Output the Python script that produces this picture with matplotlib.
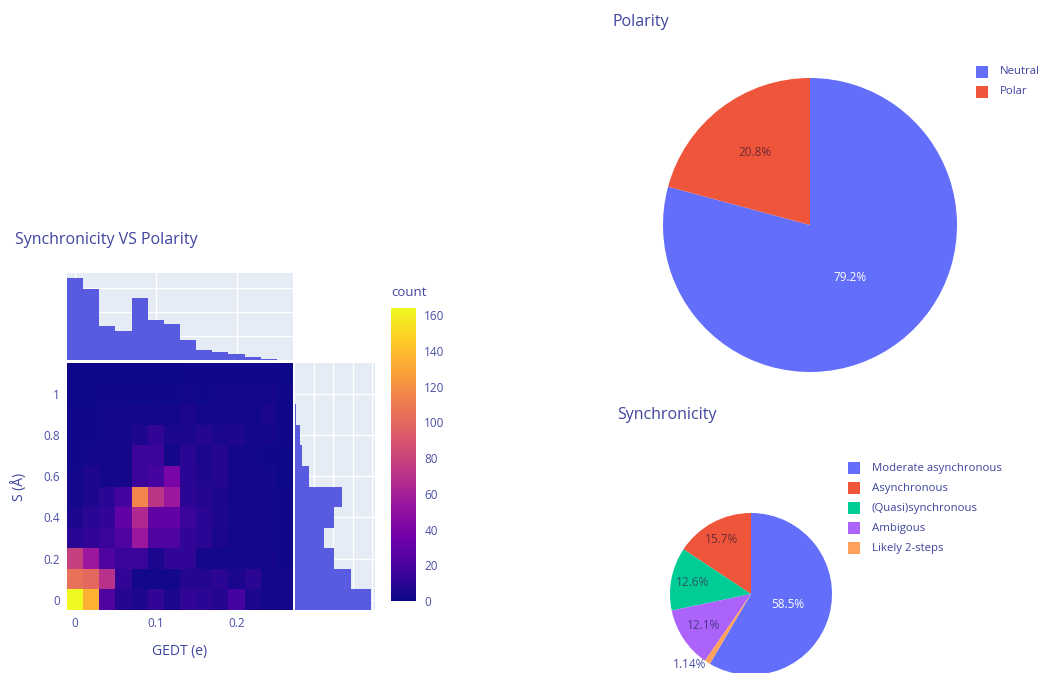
import numpy as np
import matplotlib
matplotlib.use("Agg")
import matplotlib.pyplot as plt
from matplotlib.colors import LinearSegmentedColormap
from matplotlib.patches import Rectangle

plt.rcParams['font.family'] = ['Open Sans', 'DejaVu Sans']

# ---------------- data ----------------
gedt_centers = [0.0, 0.02, 0.04, 0.06, 0.08, 0.10, 0.12, 0.14, 0.16, 0.18, 0.20, 0.22, 0.24, 0.26]
s_centers = [0.0, 0.1, 0.2, 0.3, 0.4, 0.5, 0.6, 0.7, 0.8, 0.9, 1.0, 1.1]

# 2D counts: one row per S bin (bottom to top), one column per GEDT bin
count_rows = [
    [164, 135, 22, 8, 6, 12, 5, 12, 10, 8, 18, 5, 3, 3],
    [105, 100, 70, 12, 2, 2, 2, 8, 8, 10, 5, 10, 3, 2],
    [78, 55, 22, 15, 15, 5, 12, 12, 3, 2, 2, 2, 3, 1],
    [10, 12, 15, 22, 55, 22, 22, 12, 10, 5, 3, 3, 2, 1],
    [5, 10, 12, 30, 65, 30, 30, 15, 10, 6, 3, 3, 2, 1],
    [2, 5, 10, 18, 115, 72, 55, 10, 8, 5, 3, 2, 2, 1],
    [2, 6, 3, 3, 15, 18, 40, 10, 6, 8, 3, 2, 2, 0],
    [1, 2, 3, 3, 15, 15, 3, 10, 5, 8, 3, 2, 1, 0],
    [1, 1, 2, 3, 6, 12, 5, 5, 8, 5, 6, 2, 3, 1],
    [1, 1, 2, 2, 3, 2, 3, 5, 3, 3, 3, 2, 5, 1],
    [0, 0, 1, 1, 1, 1, 1, 2, 1, 2, 2, 2, 3, 1],
    [0, 0, 0, 0, 0, 0, 0, 1, 1, 1, 1, 1, 1, 0],
]

# marginal histograms
gedt_counts = [343, 295, 143, 120, 260, 166, 151, 84, 41, 32, 24, 13, 4, 1]
s_counts = [395, 292, 203, 151, 203, 245, 73, 38, 24, 7, 2, 0]

polarity_labels = ["Neutral", "Polar"]
polarity_share = [79.2, 20.8]

sync_labels = ["Moderate asynchronous", "Asynchronous", "(Quasi)synchronous",
               "Ambigous", "Likely 2-steps"]
sync_share = [58.5, 15.7, 12.6, 12.1, 1.14]

# ---------------- styling ----------------
W, H = 1041, 673
fig = plt.figure(figsize=(W / 100, H / 100), dpi=100)
fig.patch.set_facecolor("white")

TXT = "#3f449e"
TICK = "#4a4fa6"
BG = "#E5ECF6"
BAR = "#585be0"
plasma_plotly = ["#0d0887", "#46039f", "#7201a8", "#9c179e", "#bd3786",
                 "#d8576b", "#ed7953", "#fb9f3a", "#fdca26", "#f0f921"]
cmap = LinearSegmentedColormap.from_list("plasma_px", plasma_plotly)
pie_colors = ["#636efa", "#EF553B", "#00cc96", "#ab63fa", "#FFA15A"]


def px_axes(x0, y0, x1, y1):
    """Axes from pixel box (top-left origin)."""
    return fig.add_axes([x0 / W, 1 - y1 / H, (x1 - x0) / W, (y1 - y0) / H])


def fx(x):
    return x / W


def fy(y):
    return 1 - y / H


gedt_c = np.array(gedt_centers)
s_c = np.array(s_centers)
dx = gedt_c[1] - gedt_c[0]
dy = s_c[1] - s_c[0]
x_edges = np.append(gedt_c - dx / 2, gedt_c[-1] + dx / 2)
y_edges = np.append(s_c - dy / 2, s_c[-1] + dy / 2)
counts = np.array(count_rows, dtype=float)
XLIM = (x_edges[0], x_edges[-1])
YLIM = (y_edges[0], y_edges[-1])
ZMAX = 164

# ---- heatmap ----
ax_h = px_axes(67, 363, 293, 610)
mesh = ax_h.pcolormesh(x_edges, y_edges, counts, cmap=cmap, vmin=0, vmax=ZMAX)
ax_h.set_xlim(XLIM)
ax_h.set_ylim(YLIM)
ax_h.set_xticks([0, 0.1, 0.2])
ax_h.set_xticklabels(["0", "0.1", "0.2"])
ax_h.set_yticks([0, 0.2, 0.4, 0.6, 0.8, 1.0])
ax_h.set_yticklabels(["0", "0.2", "0.4", "0.6", "0.8", "1"])
ax_h.tick_params(length=0, labelsize=8.5, colors=TICK, pad=5)
for sp in ax_h.spines.values():
    sp.set_visible(False)
ax_h.set_xlabel("GEDT (e)", fontsize=10, color=TXT, labelpad=10)
ax_h.set_ylabel("S (Å)", fontsize=10, color=TXT, labelpad=12)

# ---- top marginal histogram ----
ax_t = px_axes(67, 273, 293, 360)
ax_t.set_facecolor(BG)
ax_t.bar(gedt_c, gedt_counts, width=dx, color=BAR, zorder=2, linewidth=0)
ax_t.set_xlim(XLIM)
ax_t.set_ylim(0, 364)
ax_t.set_xticks([0, 0.1, 0.2])
ax_t.set_yticks([100, 200, 300])
ax_t.grid(True, color="white", linewidth=1, zorder=0)
ax_t.set_axisbelow(True)
ax_t.tick_params(length=0, labelbottom=False, labelleft=False)
for sp in ax_t.spines.values():
    sp.set_visible(False)

# ---- right marginal histogram ----
ax_r = px_axes(295, 363, 375, 610)
ax_r.set_facecolor(BG)
ax_r.barh(s_c, s_counts, height=dy, color=BAR, zorder=2, linewidth=0)
ax_r.set_ylim(YLIM)
ax_r.set_xlim(0, 416)
ax_r.set_xticks([100, 200, 300, 400])
ax_r.set_yticks([0, 0.2, 0.4, 0.6, 0.8, 1.0])
ax_r.grid(True, color="white", linewidth=1, zorder=0)
ax_r.set_axisbelow(True)
ax_r.tick_params(length=0, labelbottom=False, labelleft=False)
for sp in ax_r.spines.values():
    sp.set_visible(False)

# ---- colorbar ----
ax_cb = px_axes(391, 308, 416, 601)
cb = fig.colorbar(mesh, cax=ax_cb)
cb.set_ticks(range(0, 161, 20))
cb.outline.set_visible(False)
ax_cb.tick_params(length=0, labelsize=8.5, colors=TICK, pad=6)
fig.text(fx(391), fy(293), "count", fontsize=9.5, color=TXT, ha="left", va="center")

fig.text(fx(15), fy(240), "Synchronicity VS Polarity", fontsize=11.5, color=TXT,
         ha="left", va="center")


def draw_pie(box, shares, start, label_r, text_colors, outside=None):
    ax = px_axes(*box)
    wedges, _ = ax.pie(shares, colors=pie_colors[:len(shares)], startangle=start,
                       counterclock=True, radius=1,
                       wedgeprops=dict(linewidth=0))
    ax.set_xlim(-1, 1)
    ax.set_ylim(-1, 1)
    ax.set_aspect("auto")
    for i, (w, val) in enumerate(zip(wedges, shares)):
        mid = np.deg2rad((w.theta1 + w.theta2) / 2)
        txt = f"{val:.3g}%"
        if outside is not None and i == outside:
            r = 1.03
            ax.text(r * np.cos(mid), r * np.sin(mid), txt, fontsize=8.5,
                    color=TICK, ha="right", va="center", clip_on=False)
        else:
            r = label_r[i]
            ax.text(r * np.cos(mid), r * np.sin(mid), txt, fontsize=8.5,
                    color=text_colors[i], ha="center", va="center")
    return wedges


# ---- Polarity pie ----
pol_start = 90 - polarity_share[0] / sum(polarity_share) * 360
draw_pie((663, 78, 957, 372), polarity_share, pol_start, [0.45, 0.62],
         ["white", "#6a2a35"])
fig.text(fx(612), fy(22), "Polarity", fontsize=11.5, color=TXT, ha="left", va="center")

# ---- Synchronicity pie ----
sync_start = 90 - sync_share[0] / sum(sync_share) * 360
draw_pie((670, 513, 832, 675), sync_share, sync_start, [0.47, 0.76, 0.74, 0.70, 1.0],
         ["white", "#6a2a35", "#2a5a60", "#4a3a8a", TICK], outside=4)
fig.text(fx(617), fy(415), "Synchronicity", fontsize=11.5, color=TXT, ha="left", va="center")


def draw_legend(x_box, y_first, labels, step=20):
    for i, lab in enumerate(labels):
        yc = y_first + i * step
        fig.patches.append(Rectangle((fx(x_box), fy(yc + 6)), 12 / W, 12 / H,
                                     transform=fig.transFigure, facecolor=pie_colors[i],
                                     edgecolor="none"))
        fig.text(fx(x_box + 24), fy(yc), lab, fontsize=8.2, color=TXT,
                 ha="left", va="center")


draw_legend(976, 72, polarity_labels)
draw_legend(848, 468, sync_labels)

fig.savefig("out.png", dpi=100)
